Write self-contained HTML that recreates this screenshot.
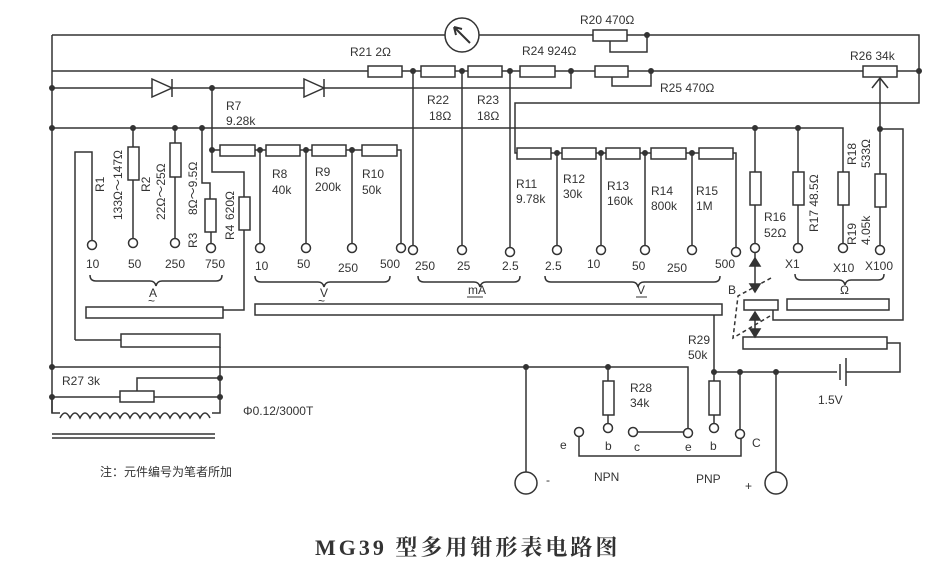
<!DOCTYPE html>
<html><head><meta charset="utf-8"><style>
html,body{margin:0;padding:0;background:#fff}
svg{display:block}
text{font-family:"Liberation Sans","Noto Sans CJK SC",sans-serif;fill:#333;font-size:12px}
</style></head><body>
<svg width="950" height="562" viewBox="0 0 950 562" xmlns="http://www.w3.org/2000/svg">
<g stroke="#333" stroke-width="1.5" fill="none">
<path d="M52 35H445 M479 35H593 M627 35H919V103H515V153H517"/>
<circle cx="462" cy="35" r="17"/>
<path d="M470 43L454 27 M454 27l2 8 M454 27l8 2" stroke-width="2"/>
<rect x="593" y="30" width="34" height="11" fill="#fff"/>
<path d="M610 41V52H647V35"/>
<path d="M52 71H368 M402 71H421 M455 71H468 M502 71H520 M555 71H595 M628 71H863 M897 71H919"/>
<rect x="368" y="66" width="34" height="11" fill="#fff"/>
<rect x="421" y="66" width="34" height="11" fill="#fff"/>
<rect x="468" y="66" width="34" height="11" fill="#fff"/>
<rect x="520" y="66" width="35" height="11" fill="#fff"/>
<rect x="595" y="66" width="33" height="11" fill="#fff"/>
<path d="M612 77V86H651V71"/>
<rect x="863" y="66" width="34" height="11" fill="#fff"/>
<path d="M880 78V129 M872 88L880 78L888 88"/>
<path d="M52 88H571V71"/>
<path d="M152 79V97L172 88Z M172 79V97" fill="#fff"/>
<path d="M304 79V97L324 88Z M324 79V97" fill="#fff"/>
<path d="M52 128H843V172 M880 129H903V320H773V310"/>
<path d="M52 35V413 M75 340V152H92V240 M121 340H75"/>
<path d="M133 128V147 M133 180V240 M175 128V143 M175 177V240 M202 128V183H210V199 M211 232V243 M212 88V172H244V197 M244 230V310H223"/>
<rect x="128" y="147" width="11" height="33" fill="#fff"/>
<rect x="170" y="143" width="11" height="34" fill="#fff"/>
<rect x="205" y="199" width="11" height="33" fill="#fff"/>
<rect x="239" y="197" width="11" height="33" fill="#fff"/>
<path d="M212 150H220 M255 150H266 M300 150H312 M346 150H362 M397 150H401V243 M260 150V243 M306 150V243 M352 150V243"/>
<rect x="220" y="145" width="35" height="11" fill="#fff"/>
<rect x="266" y="145" width="34" height="11" fill="#fff"/>
<rect x="312" y="145" width="34" height="11" fill="#fff"/>
<rect x="362" y="145" width="35" height="11" fill="#fff"/>
<path d="M413 71V245 M462 71V245 M510 71V247"/>
<path d="M551 153H562 M596 153H606 M640 153H651 M686 153H699 M733 153H736V247 M557 153V247 M601 153V245 M645 153V245 M692 153V245"/>
<rect x="517" y="148" width="34" height="11" fill="#fff"/>
<rect x="562" y="148" width="34" height="11" fill="#fff"/>
<rect x="606" y="148" width="34" height="11" fill="#fff"/>
<rect x="651" y="148" width="35" height="11" fill="#fff"/>
<rect x="699" y="148" width="34" height="11" fill="#fff"/>
<path d="M755 128V172 M755 205V243 M798 128V172 M798 205V243 M843 205V243 M880 129V174 M880 207V245"/>
<rect x="750" y="172" width="11" height="33" fill="#fff"/>
<rect x="793" y="172" width="11" height="33" fill="#fff"/>
<rect x="838" y="172" width="11" height="33" fill="#fff"/>
<rect x="875" y="174" width="11" height="33" fill="#fff"/>
<g fill="#fff">
<circle cx="92" cy="245" r="4.5"/><circle cx="133" cy="243" r="4.5"/><circle cx="175" cy="243" r="4.5"/><circle cx="211" cy="248" r="4.5"/>
<circle cx="260" cy="248" r="4.5"/><circle cx="306" cy="248" r="4.5"/><circle cx="352" cy="248" r="4.5"/><circle cx="401" cy="248" r="4.5"/>
<circle cx="413" cy="250" r="4.5"/><circle cx="462" cy="250" r="4.5"/><circle cx="510" cy="252" r="4.5"/>
<circle cx="557" cy="250" r="4.5"/><circle cx="601" cy="250" r="4.5"/><circle cx="645" cy="250" r="4.5"/><circle cx="692" cy="250" r="4.5"/><circle cx="736" cy="252" r="4.5"/>
<circle cx="755" cy="248" r="4.5"/><circle cx="798" cy="248" r="4.5"/><circle cx="843" cy="248" r="4.5"/><circle cx="880" cy="250" r="4.5"/>
</g>
<path d="M90 275q0 6 6 6H150q5 0 6 5q1-5 6-5H216q6 0 6-6"/>
<path d="M255 276q0 6 6 6H318q5 0 6 5q1-5 6-5H384q6 0 6-6"/>
<path d="M418 276q0 6 6 6H474q5 0 6 5q1-5 6-5H514q6 0 6-6"/>
<path d="M545 276q0 6 6 6H632q5 0 6 5q1-5 6-5H714q6 0 6-6"/>
<path d="M795 274q0 6 6 6H839q5 0 6 5q1-5 6-5H878q6 0 6-6"/>
<rect x="86" y="307" width="137" height="11" fill="#fff"/>
<rect x="121" y="334" width="99" height="13" fill="#fff"/>
<rect x="255" y="304" width="467" height="11" fill="#fff"/>
<rect x="744" y="300" width="34" height="10" fill="#fff"/>
<rect x="787" y="299" width="102" height="11" fill="#fff"/>
<rect x="743" y="337" width="144" height="12" fill="#fff"/>
<path d="M887 343H900V372H846 M837 372H714 M840 364V380 M846 358V386"/>
<path d="M755 252V292 M755 312V334"/>
<path d="M750 266L755 258L760 266Z M750 284L755 292L760 284Z M750 320L755 312L760 320Z M750 329L755 337L760 329Z" fill="#333"/>
<path d="M771 278L738 296L733 338L770 316" stroke-dasharray="4 3"/>
<path d="M52 367H688V433 M220 347V397 M52 397H120 M154 397H220 M137 391V378H220"/>
<rect x="120" y="391" width="34" height="11" fill="#fff"/>
<path d="M52 397V413H60 M212 413H220V397"/>
<path d="M60 418q5-10 10 0q5-10 10 0q5-10 10 0q5-10 10 0q5-10 10 0q5-10 10 0q5-10 10 0q5-10 10 0q5-10 10 0q5-10 10 0q5-10 10 0q5-10 10 0q5-10 10 0q5-10 10 0q5-10 10 0"/>
<path d="M52 434H215 M52 438H215"/>
<path d="M526 367V472 M608 367V381 M608 415V424 M633 432H684 M579 436V456H741V438 M714 315V381 M714 415V424 M740 372V430 M776 372V472"/>
<rect x="603" y="381" width="11" height="34" fill="#fff"/>
<rect x="709" y="381" width="11" height="34" fill="#fff"/>
<g fill="#fff">
<circle cx="579" cy="432" r="4.5"/><circle cx="608" cy="428" r="4.5"/><circle cx="633" cy="432" r="4.5"/><circle cx="688" cy="433" r="4.5"/><circle cx="714" cy="428" r="4.5"/><circle cx="740" cy="434" r="4.5"/>
<circle cx="526" cy="483" r="11"/><circle cx="776" cy="483" r="11"/>
</g>
</g>
<g fill="#333">
<circle cx="52" cy="88" r="3"/><circle cx="212" cy="88" r="3"/><circle cx="52" cy="128" r="3"/><circle cx="133" cy="128" r="3"/><circle cx="175" cy="128" r="3"/><circle cx="202" cy="128" r="3"/>
<circle cx="212" cy="150" r="3"/><circle cx="260" cy="150" r="3"/><circle cx="306" cy="150" r="3"/><circle cx="352" cy="150" r="3"/>
<circle cx="413" cy="71" r="3"/><circle cx="462" cy="71" r="3"/><circle cx="510" cy="71" r="3"/><circle cx="571" cy="71" r="3"/><circle cx="651" cy="71" r="3"/><circle cx="919" cy="71" r="3"/><circle cx="647" cy="35" r="3"/>
<circle cx="557" cy="153" r="3"/><circle cx="601" cy="153" r="3"/><circle cx="645" cy="153" r="3"/><circle cx="692" cy="153" r="3"/>
<circle cx="755" cy="128" r="3"/><circle cx="798" cy="128" r="3"/><circle cx="880" cy="129" r="3"/>
<circle cx="52" cy="367" r="3"/><circle cx="52" cy="397" r="3"/><circle cx="220" cy="378" r="3"/><circle cx="220" cy="397" r="3"/>
<circle cx="526" cy="367" r="3"/><circle cx="608" cy="367" r="3"/><circle cx="714" cy="372" r="3"/><circle cx="740" cy="372" r="3"/><circle cx="776" cy="372" r="3"/>
</g>
<text x="580" y="24">R20  470Ω</text>
<text x="350" y="56">R21  2Ω</text>
<text x="522" y="55">R24  924Ω</text>
<text x="660" y="92">R25  470Ω</text>
<text x="850" y="60">R26  34k</text>
<text x="226" y="110">R7</text><text x="226" y="125">9.28k</text>
<text x="427" y="104">R22</text><text x="429" y="120">18Ω</text>
<text x="477" y="104">R23</text><text x="477" y="120">18Ω</text>
<text x="272" y="178">R8</text><text x="272" y="194">40k</text>
<text x="315" y="176">R9</text><text x="315" y="191">200k</text>
<text x="362" y="178">R10</text><text x="362" y="194">50k</text>
<text x="516" y="188">R11</text><text x="516" y="203">9.78k</text>
<text x="563" y="183">R12</text><text x="563" y="198">30k</text>
<text x="607" y="190">R13</text><text x="607" y="205">160k</text>
<text x="651" y="195">R14</text><text x="651" y="210">800k</text>
<text x="696" y="195">R15</text><text x="696" y="210">1M</text>
<text x="764" y="221">R16</text><text x="764" y="237">52Ω</text>
<text transform="translate(104,192) rotate(-90)">R1</text>
<text transform="translate(122,220) rotate(-90)">133Ω～147Ω</text>
<text transform="translate(150,192) rotate(-90)">R2</text>
<text transform="translate(165,220) rotate(-90)">22Ω～25Ω</text>
<text transform="translate(197,248) rotate(-90)">R3</text>
<text transform="translate(197,215) rotate(-90)">8Ω～9.5Ω</text>
<text transform="translate(234,240) rotate(-90)">R4</text>
<text transform="translate(234,220) rotate(-90)">620Ω</text>
<text transform="translate(818,232) rotate(-90)">R17  48.5Ω</text>
<text transform="translate(856,165) rotate(-90)">R18</text><text transform="translate(870,168) rotate(-90)">533Ω</text>
<text transform="translate(856,245) rotate(-90)">R19</text><text transform="translate(870,245) rotate(-90)">4.05k</text>
<text x="86" y="268">10</text><text x="128" y="268">50</text><text x="165" y="268">250</text><text x="205" y="268">750</text>
<text x="255" y="270">10</text><text x="297" y="268">50</text><text x="338" y="272">250</text><text x="380" y="268">500</text>
<text x="415" y="270">250</text><text x="457" y="270">25</text><text x="502" y="270">2.5</text>
<text x="545" y="270">2.5</text><text x="587" y="268">10</text><text x="632" y="270">50</text><text x="667" y="272">250</text><text x="715" y="268">500</text>
<text x="785" y="268">X1</text><text x="833" y="272">X10</text><text x="865" y="270">X100</text>
<text x="149" y="297">A</text><text x="148" y="305" font-size="10">~</text>
<text x="320" y="297">V</text><text x="318" y="305" font-size="10">~</text>
<text x="468" y="294" font-size="11">mA</text><path d="M467 297H483" stroke="#333"/>
<text x="637" y="294">V</text><path d="M636 297H647" stroke="#333"/>
<text x="840" y="294">Ω</text>
<text x="728" y="294">B</text>
<text x="688" y="344">R29</text><text x="688" y="359">50k</text>
<text x="630" y="392">R28</text><text x="630" y="407">34k</text>
<text x="62" y="385">R27  3k</text>
<text x="243" y="415">Φ0.12/3000T</text>
<text x="818" y="404">1.5V</text>
<text x="560" y="449" font-size="11">e</text><text x="605" y="450" font-size="11">b</text><text x="634" y="451" font-size="11">c</text><text x="685" y="451" font-size="11">e</text><text x="710" y="450" font-size="11">b</text><text x="752" y="447">C</text>
<text x="594" y="481" font-size="11">NPN</text><text x="696" y="483" font-size="11">PNP</text>
<text x="546" y="484">-</text><text x="745" y="490">+</text>
<text x="100" y="476" font-size="12">注：元件编号为笔者所加</text>
<text x="315" y="555" style="font-family:'Liberation Serif','Noto Serif CJK SC',serif;font-size:22px;font-weight:bold;letter-spacing:3px">MG39 型多用钳形表电路图</text>
</svg>
</body></html>
